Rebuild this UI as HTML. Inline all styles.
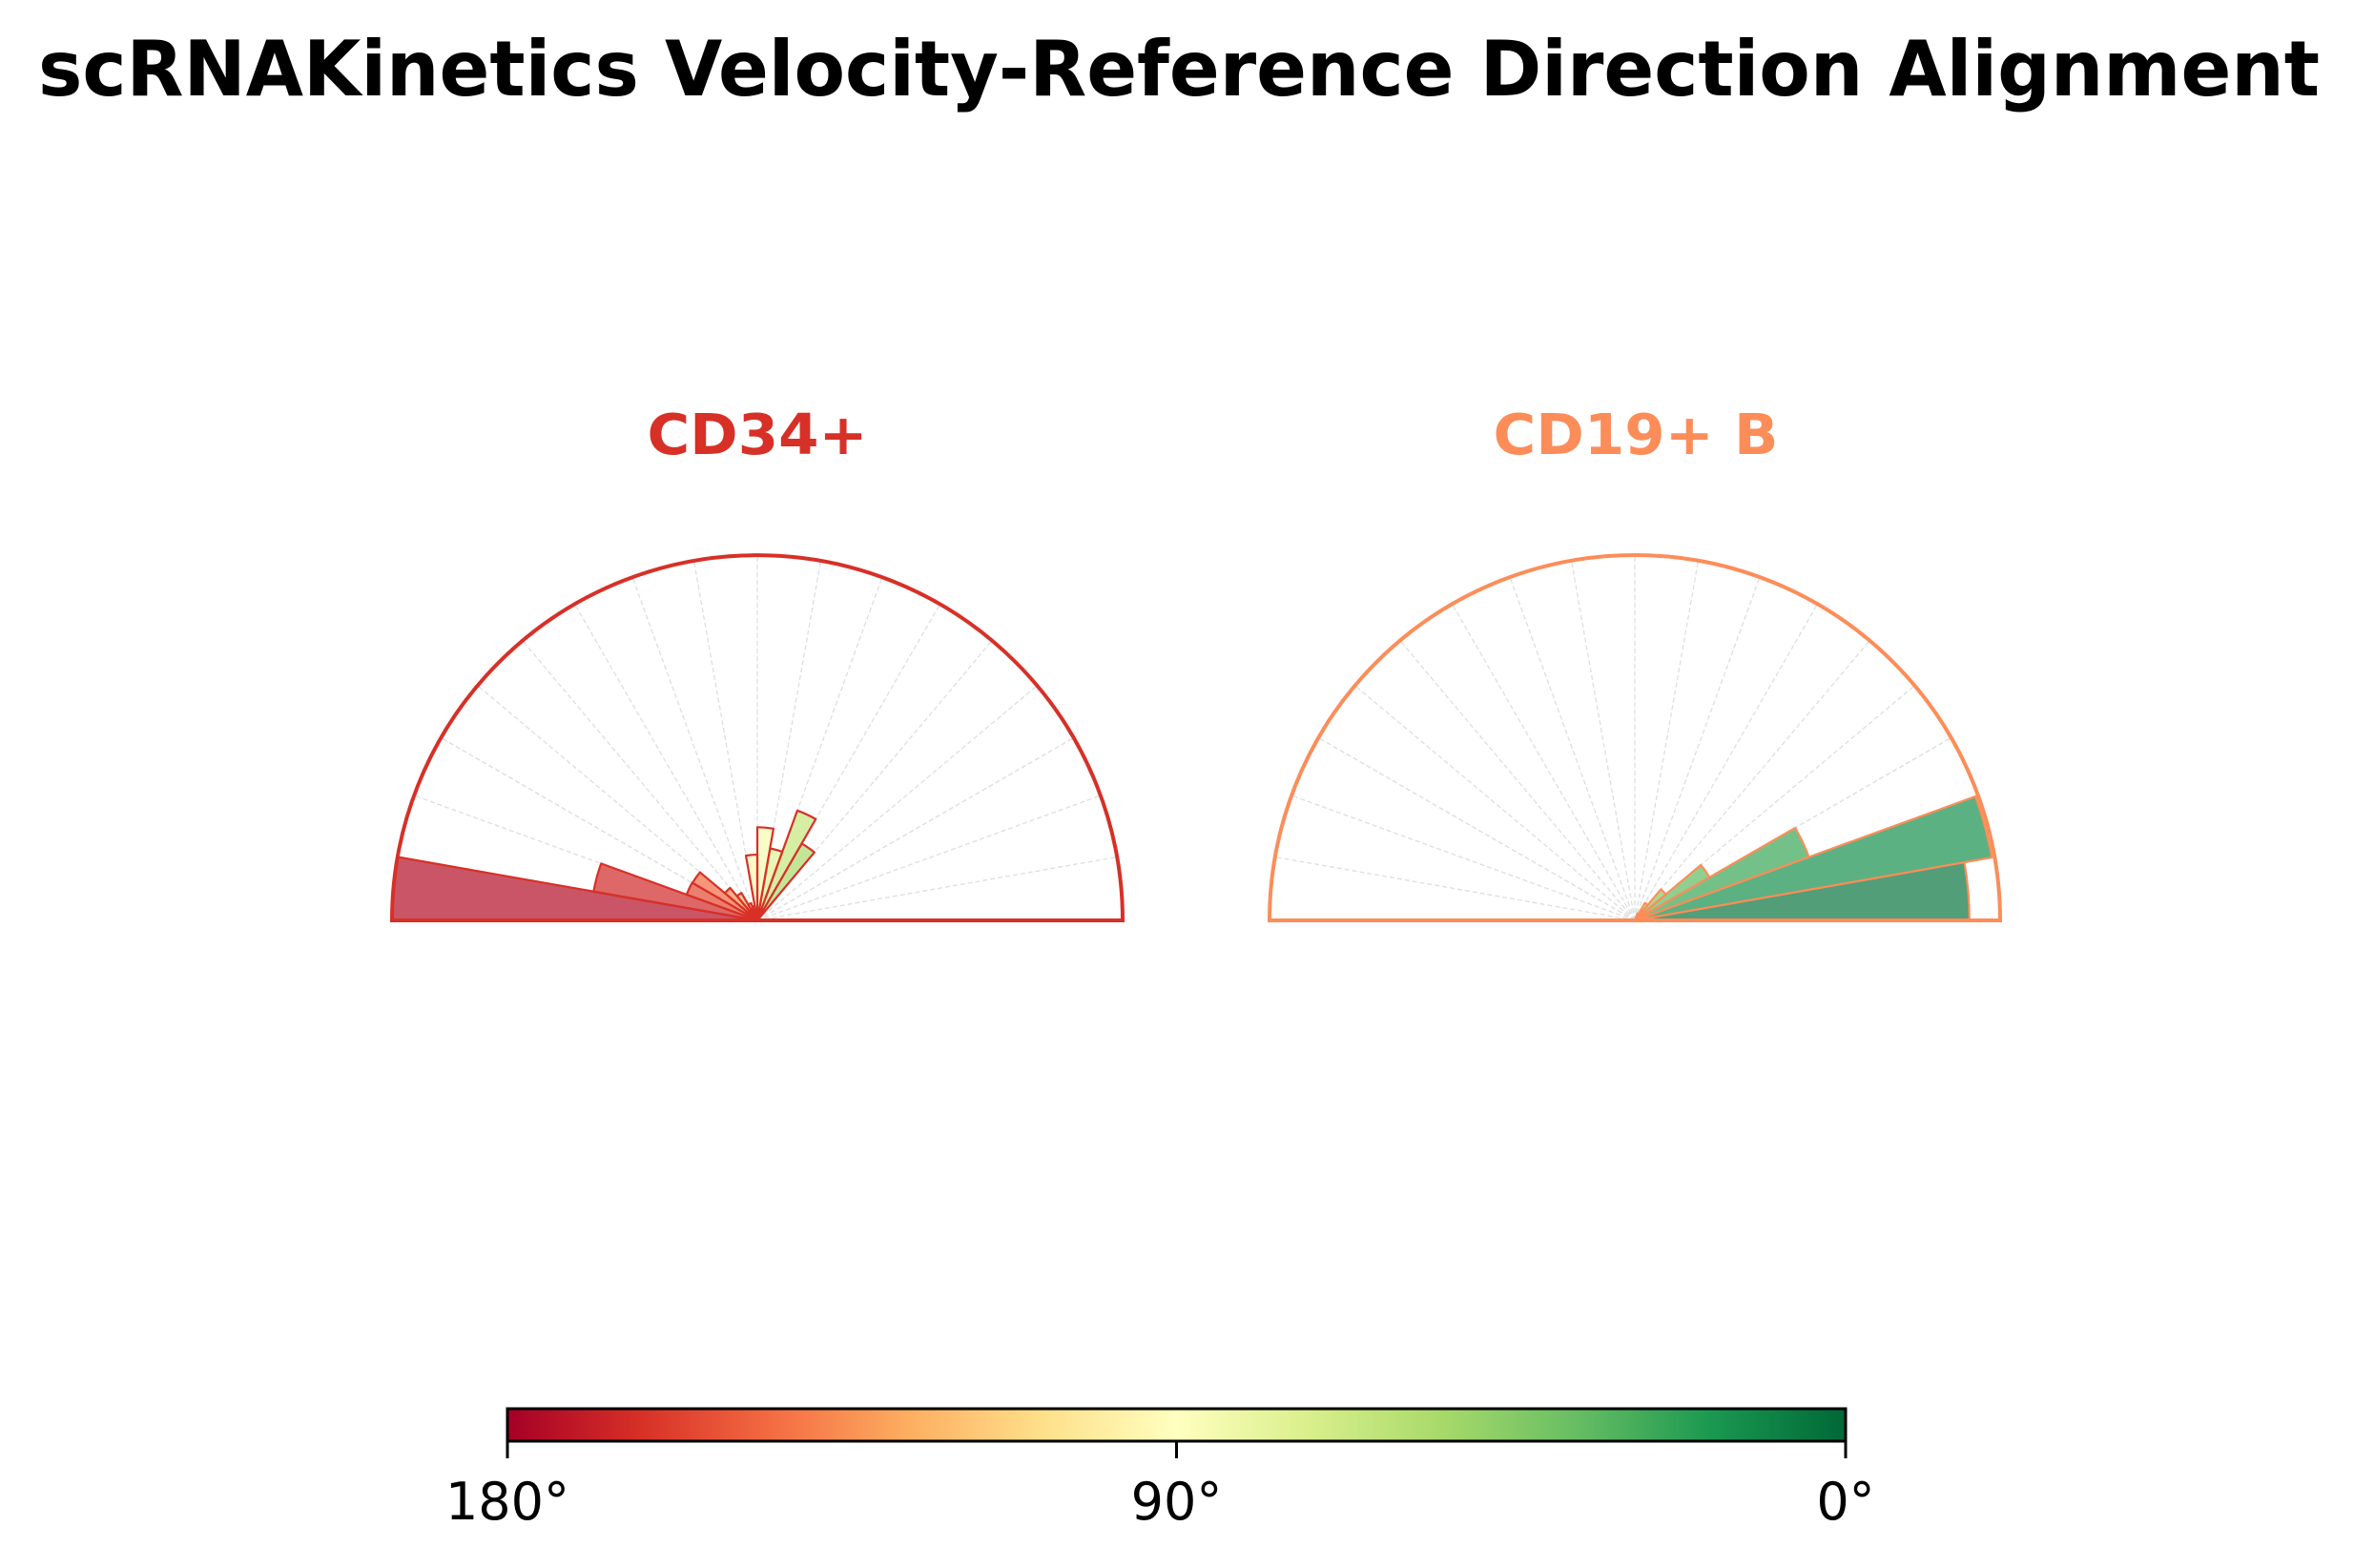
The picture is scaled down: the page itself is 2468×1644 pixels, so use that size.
<!DOCTYPE html>
<html><head><meta charset="utf-8"><style>
html,body{margin:0;padding:0;background:#fff;}
svg{display:block;}
</style></head><body>
<svg id="chart" width="2468" height="1644" viewBox="0 0 2468 1644" xmlns="http://www.w3.org/2000/svg" font-family="DejaVu Sans, Liberation Sans, sans-serif">
<defs>
<linearGradient id="cbgrad" x1="0" y1="0" x2="1" y2="0">
<stop offset="0" stop-color="#a50026"/><stop offset="0.1" stop-color="#d73027"/><stop offset="0.2" stop-color="#f46d43"/><stop offset="0.3" stop-color="#fdae61"/><stop offset="0.4" stop-color="#fee08b"/><stop offset="0.5" stop-color="#ffffbf"/><stop offset="0.6" stop-color="#d9ef8b"/><stop offset="0.7" stop-color="#a6d96a"/><stop offset="0.8" stop-color="#66bd63"/><stop offset="0.9" stop-color="#1a9850"/><stop offset="1" stop-color="#006837"/>
</linearGradient>
</defs>
<text x="1236" y="100" text-anchor="middle" font-size="80" font-weight="bold" textLength="2392" lengthAdjust="spacingAndGlyphs">scRNAKinetics Velocity-Reference Direction Alignment</text>
<g id="panels"></g>
<g>
<rect x="532" y="1477" width="1403" height="34" fill="url(#cbgrad)" stroke="#000" stroke-width="3"/>
</g>
<g id="cbticks"></g>
</svg>
<script>
// Data
const binEdgesStart = [0,10,20,30,40,50,60,70,80,90,100,110,120,130,140,150,160,170];
const cd34Values =    [0,0,0,0,0,0.243,0.32,0.20,0.255,0.18,0.04,0.05,0.087,0.116,0.205,0.206,0.455,1.0];
const cd19Values =    [0.916,0.992,0.507,0.236,0.111,0.055,0.02,0,0,0,0,0,0,0,0,0,0,0];
const panelNames = ["CD34+","CD19+ B"];
const panelColors = ["#d73027","#fc8d59"];
const cbTickValues = [180,90,0];
const cbTickLabels = ["180°","90°","0°"];
const binWidth = 10;

const svgNS="http://www.w3.org/2000/svg";
const svg=document.getElementById('chart');
const panelsG=document.getElementById('panels');
const stops=["#a50026","#d73027","#f46d43","#fdae61","#fee08b","#ffffbf","#d9ef8b","#a6d96a","#66bd63","#1a9850","#006837"];
function hex(h){return [1,3,5].map(i=>parseInt(h.substr(i,2),16));}
function rdylgn(t){t=Math.max(0,Math.min(1,t));const p=t*10;const i=Math.min(9,Math.floor(p));const f=p-i;const a=hex(stops[i]),b=hex(stops[i+1]);return 'rgb('+a.map((v,k)=>Math.round(v+(b[k]-v)*f)).join(',')+')';}
const cy=965, R=383;
const centers=[794,1714];
const titleLens=[231,299];
const titleOffsets=[0,1];
function pt(cx,ang,r){const a=ang*Math.PI/180;return [cx+r*Math.cos(a),cy-r*Math.sin(a)];}
function el(tag,attrs,parent){const e=document.createElementNS(svgNS,tag);for(const k in attrs)e.setAttribute(k,attrs[k]);parent.appendChild(e);return e;}
const allValues=[cd34Values,cd19Values];
panelNames.forEach((name,p)=>{
  const cx=centers[p];
  const g=el('g',{},panelsG);
  
  
  for(let a=10;a<180;a+=10){
    const e=pt(cx,a,R);
    const ln=el('line',{x1:cx,y1:cy,x2:e[0],y2:e[1],stroke:'#dedede','stroke-width':1.3,'stroke-dasharray':'5,3'},g);
    
    
  }
  allValues[p].forEach((v,i)=>{
    if(v<=0)return;
    const a0=binEdgesStart[i], a1=a0+binWidth, r=v*R;
    const s=pt(cx,a0,r), e=pt(cx,a1,r);
    const d=`M${cx},${cy} L${s[0]},${s[1]} A${r},${r} 0 0 0 ${e[0]},${e[1]} Z`;
    const c=rdylgn(1-(a0+binWidth/2)/180);
    const b=el('path',{d:d,fill:c,'fill-opacity':0.7,stroke:panelColors[p],'stroke-width':2.2,'stroke-linejoin':'round'},g);
    
    
  });
  const L=pt(cx,180,R), Rr=pt(cx,0,R);
  const o=el('path',{d:`M${L[0]},${L[1]} A${R},${R} 0 0 1 ${Rr[0]},${Rr[1]} Z`,fill:'none',stroke:panelColors[p],'stroke-width':4},g);
  
  
  const t=el('text',{x:cx+titleOffsets[p],y:476,'text-anchor':'middle','font-size':59,'font-weight':'bold',fill:panelColors[p],textLength:titleLens[p],lengthAdjust:'spacingAndGlyphs'},g);
  t.textContent=name;
  
  
});
const cbG=document.getElementById('cbticks');
const cbx0=532, cbx1=1935;
function cbX(v){return cbx0+(180-v)/180*(cbx1-cbx0);}
cbTickValues.forEach((v,i)=>{
  const x=cbX(v);
  const tk=el('line',{x1:x,y1:1511,x2:x,y2:1529,stroke:'#000','stroke-width':3},cbG);
  
  
  const tx=el('text',{x:x,y:1593,'text-anchor':'middle','font-size':54,fill:'#000'},cbG);
  tx.textContent=cbTickLabels[i];
  
  
});
</script>
</body></html>
